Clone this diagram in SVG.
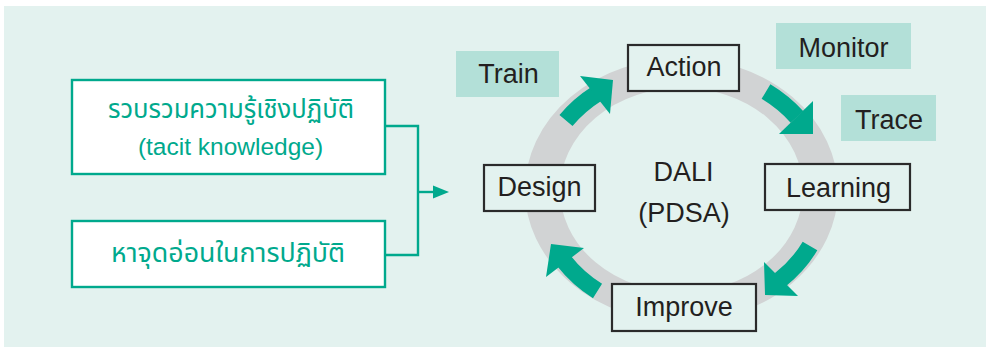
<svg xmlns="http://www.w3.org/2000/svg" width="986" height="347" viewBox="0 0 986 347">
<style>
.lbox{fill:#ffffff;stroke:#00a98d;stroke-width:2.4}
.ltxt{fill:#00a98d;font-family:"Noto Sans Thai","Noto Sans","DejaVu Sans",sans-serif;font-size:27px;text-anchor:middle}
.ltxt2{fill:#00a98d;font-family:"Liberation Sans",Arial,sans-serif;font-size:24.5px;text-anchor:middle}
.nbox{fill:#e3f2ef;stroke:#2b2b2b;stroke-width:2.2}
.tag{fill:#b3e0d8}
.txt{fill:#231f20;font-family:"Liberation Sans",Arial,sans-serif;font-size:27px;text-anchor:middle}
.conn{fill:none;stroke:#00a98d;stroke-width:2.4}
.shaft{fill:none;stroke:#00a98d;stroke-width:17}
.head{fill:#00a98d}
</style>
<rect x="4" y="6" width="982" height="341" fill="#e3f2ef"/>
<g id="ring">
<circle cx="0" cy="0" r="139" fill="none" stroke="#d1d3d4" stroke-width="35" transform="translate(681.5,190) scale(1,0.842)"/>
</g>
<g id="connectors">
<polyline class="conn" points="385,126 418,126 418,255 385,255"/>
<line class="conn" x1="418" y1="192" x2="440" y2="192"/>
<polygon class="head" points="433,185.5 449,192 433,198.5"/>
<path class="shaft" d="M566,120.5 A142,120 0 0 1 597,93.5"/>
<polygon class="head" points="580,76 613,80 610,114"/>
<path class="shaft" d="M766,91.5 A142,120 0 0 1 797,117"/>
<polygon class="head" points="779,134 813,134 813,101"/>
<path class="shaft" d="M810,246 A142,120 0 0 1 780,280"/>
<polygon class="head" points="764,262 765,295 798,296"/>
<path class="shaft" d="M597.5,291 A142,120 0 0 1 564,261"/>
<polygon class="head" points="546,277 551,244 584,248"/>
</g>
<g id="tacit">
<rect class="lbox" x="72" y="80" width="313" height="94"/>
<text class="ltxt" x="231" y="118" textLength="246" lengthAdjust="spacingAndGlyphs">รวบรวมความรู้เชิงปฏิบัติ</text>
<text class="ltxt2" x="230.5" y="155">(tacit knowledge)</text>
</g>
<g id="weak">
<rect class="lbox" x="72" y="221" width="313" height="66"/>
<text class="ltxt" x="228" y="262" textLength="234" lengthAdjust="spacingAndGlyphs">หาจุดอ่อนในการปฏิบัติ</text>
</g>
<g id="center">
<text class="txt" x="683.5" y="181">DALI</text>
<text class="txt" x="684" y="222">(PDSA)</text>
</g>
<g id="action">
<rect class="nbox" x="628" y="45" width="111" height="46"/>
<text class="txt" x="684" y="76">Action</text>
</g>
<g id="design">
<rect class="nbox" x="484" y="165" width="111" height="46"/>
<text class="txt" x="539.5" y="196">Design</text>
</g>
<g id="learning">
<rect class="nbox" x="765" y="164" width="145" height="46"/>
<text class="txt" x="838.5" y="197">Learning</text>
</g>
<g id="improve">
<rect class="nbox" x="612" y="284" width="144" height="47"/>
<text class="txt" x="684" y="316">Improve</text>
</g>
<g id="train">
<rect class="tag" x="456" y="51" width="103" height="46"/>
<text class="txt" x="508.5" y="83">Train</text>
</g>
<g id="monitor">
<rect class="tag" x="776" y="23" width="135" height="46"/>
<text class="txt" x="843.5" y="57">Monitor</text>
</g>
<g id="trace">
<rect class="tag" x="841" y="95" width="95" height="46"/>
<text class="txt" x="889" y="129">Trace</text>
</g>
</svg>
